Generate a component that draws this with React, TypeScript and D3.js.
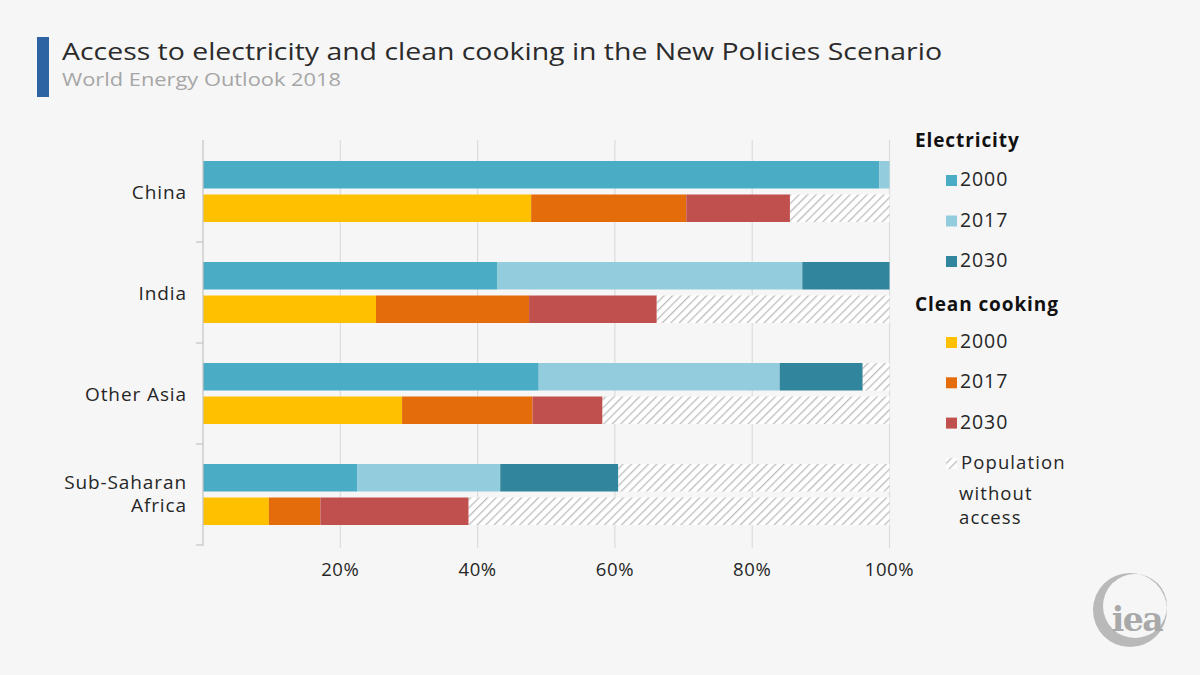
import React from "react";
import * as d3 from "d3";

const categories = ["China", "India", "Other Asia", "Sub-Saharan Africa"];
const categoryLines = [["China"], ["India"], ["Other Asia"], ["Sub-Saharan", "Africa"]];
const years = ["2000", "2017", "2030"];
// access rates (%) in 2000, 2017, 2030
const electricity = [
  [98.5, 100, 100],
  [42.9, 87.3, 100],
  [48.9, 84.0, 96.1],
  [22.5, 43.3, 60.5],
];
const cleanCooking = [
  [47.8, 70.4, 85.5],
  [25.2, 47.5, 66.1],
  [29.0, 48.0, 58.2],
  [9.6, 17.1, 38.7],
];
const xTicks = [20, 40, 60, 80, 100];
const elecColors = ["#4bacc6", "#93cddd", "#31859c"];
const cookColors = ["#ffc000", "#e46c0a", "#c0504d"];
const hatchLabel = ["Population", "without", "access"];

const FONT = "'Open Sans', 'Noto Sans', sans-serif";
const LS = 0.9;

export default function App() {
  const W = 1200, H = 675;
  const x = d3.scaleLinear().domain([0, 100]).range([203, 889.5]);
  const y = d3.scaleBand<string>().domain(categories).range([141, 545]);
  const inner = d3.scaleBand<string>().domain(["elec", "cook"]).range([20, 81]).paddingInner(6 / 33.5);
  const bh = inner.bandwidth();

  const rows = categories.map((c, i) => ({ c, elec: electricity[i], cook: cleanCooking[i] }));

  const segs = (vals: number[], colors: string[]) => {
    const out: { x0: number; x1: number; fill: string }[] = [];
    let prev = 0;
    vals.forEach((v, k) => {
      if (v > prev) out.push({ x0: prev, x1: v, fill: colors[k] });
      prev = Math.max(prev, v);
    });
    if (prev < 100) out.push({ x0: prev, x1: 100, fill: "url(#hatch)" });
    return out;
  };

  const legendItems = [
    { head: "Electricity", y: 146.5, items: years.map((yr, k) => ({ label: yr, color: elecColors[k], yy: 186 + k * 40.5 })) },
    { head: "Clean cooking", y: 311, items: years.map((yr, k) => ({ label: yr, color: cookColors[k], yy: 348 + k * 40.3 })) },
  ];
  const hatchPos = [
    { x: 961, y: 469 },
    { x: 959, y: 500 },
    { x: 959, y: 523.5 },
  ];

  return (
    <svg width={W} height={H} viewBox={`0 0 ${W} ${H}`} style={{ position: "absolute", left: 0, top: 0, background: "#f6f6f6" }}>
      <defs>
        <pattern id="hatch" patternUnits="userSpaceOnUse" width="6" height="6" patternTransform="rotate(45)">
          <rect width="6" height="6" fill="#ffffff" />
          <line x1="0" y1="0" x2="0" y2="6" stroke="#bdbdbd" strokeWidth="2.6" />
        </pattern>
      </defs>
      <rect width={W} height={H} fill="#f6f6f6" />

      {/* title */}
      <rect x={37} y={37} width={12} height={60} fill="#2d62a3" />
      <text x={62} y={60} fontFamily={FONT} fontSize={24.5} fill="#2b2b2b" textLength={880} lengthAdjust="spacingAndGlyphs">
        Access to electricity and clean cooking in the New Policies Scenario
      </text>
      <text x={62} y={85.5} fontFamily={FONT} fontSize={17.5} fill="#a6a6a6" textLength={279} lengthAdjust="spacingAndGlyphs">
        World Energy Outlook 2018
      </text>

      {/* gridlines */}
      {xTicks.map((t) => (
        <line key={t} x1={x(t)} x2={x(t)} y1={140} y2={548} stroke="#dcdcdc" strokeWidth={1.2} />
      ))}

      {/* bars */}
      {rows.map((r) => {
        const y0 = y(r.c)!;
        return (
          <g key={r.c}>
            {segs(r.elec, elecColors).map((s, k) => (
              <rect key={"e" + k} x={x(s.x0)} width={x(s.x1) - x(s.x0)} y={y0 + inner("elec")!} height={bh} fill={s.fill} />
            ))}
            {segs(r.cook, cookColors).map((s, k) => (
              <rect key={"c" + k} x={x(s.x0)} width={x(s.x1) - x(s.x0)} y={y0 + inner("cook")!} height={bh} fill={s.fill} />
            ))}
          </g>
        );
      })}

      {/* y axis */}
      <line x1={203} x2={203} y1={140} y2={545.5} stroke="#c4c4c4" strokeWidth={1.2} />
      {categories.map((c) => (
        <line key={c} x1={196} x2={203} y1={y(c)! + y.bandwidth()} y2={y(c)! + y.bandwidth()} stroke="#c4c4c4" strokeWidth={1.2} />
      ))}
      {categories.map((c, i) => {
        const lines = categoryLines[i];
        const cy = y(c)! + y.bandwidth() / 2;
        const start = cy + 7.5 - ((lines.length - 1) * 23.5) / 2 - (lines.length > 1 ? 1.5 : 0);
        return (
          <text key={c} textAnchor="end" fontFamily={FONT} fontSize={19} letterSpacing={LS} fill="#262626">
            {lines.map((ln, j) => (
              <tspan key={j} x={187} y={start + j * 23.5}>{ln}</tspan>
            ))}
          </text>
        );
      })}

      {/* x tick labels */}
      {xTicks.map((t) => (
        <text key={t} x={x(t)} y={576} textAnchor="middle" fontFamily={FONT} fontSize={18.5} letterSpacing={0.6} fill="#262626">
          {t}%
        </text>
      ))}

      {/* legend */}
      {legendItems.map((g) => (
        <g key={g.head}>
          <text x={915} y={g.y} fontFamily={FONT} fontSize={19} fontWeight={700} letterSpacing={0.9} fill="#111">{g.head}</text>
          {g.items.map((it) => (
            <g key={it.label}>
              <rect x={946} y={it.yy - 11} width={11} height={11} fill={it.color} />
              <text x={960} y={it.yy} fontFamily={FONT} fontSize={19.5} letterSpacing={LS} fill="#262626">{it.label}</text>
            </g>
          ))}
        </g>
      ))}
      <rect x={946} y={458} width={11} height={11} fill="url(#hatch)" />
      {hatchLabel.map((ln, j) => (
        <text key={ln} x={hatchPos[j].x} y={hatchPos[j].y} fontFamily={FONT} fontSize={18.5} letterSpacing={1.1} fill="#262626">
          {ln}
        </text>
      ))}

      {/* iea logo */}
      <path
        d={`M ${1130 - 37} 610 a 37 37 0 1 0 74 0 a 37 37 0 1 0 -74 0 Z M ${1135 - 32} 606 a 32 32 0 1 1 64 0 a 32 32 0 1 1 -64 0 Z`}
        fill="#b9b9b9"
        fillRule="evenodd"
      />
      <text x={1137} y={631} textAnchor="middle" fontFamily="'DejaVu Serif', serif" fontWeight={700} fontSize={33} fill="#a9a9a9" letterSpacing={-1.5}>
        iea
      </text>
    </svg>
  );
}
